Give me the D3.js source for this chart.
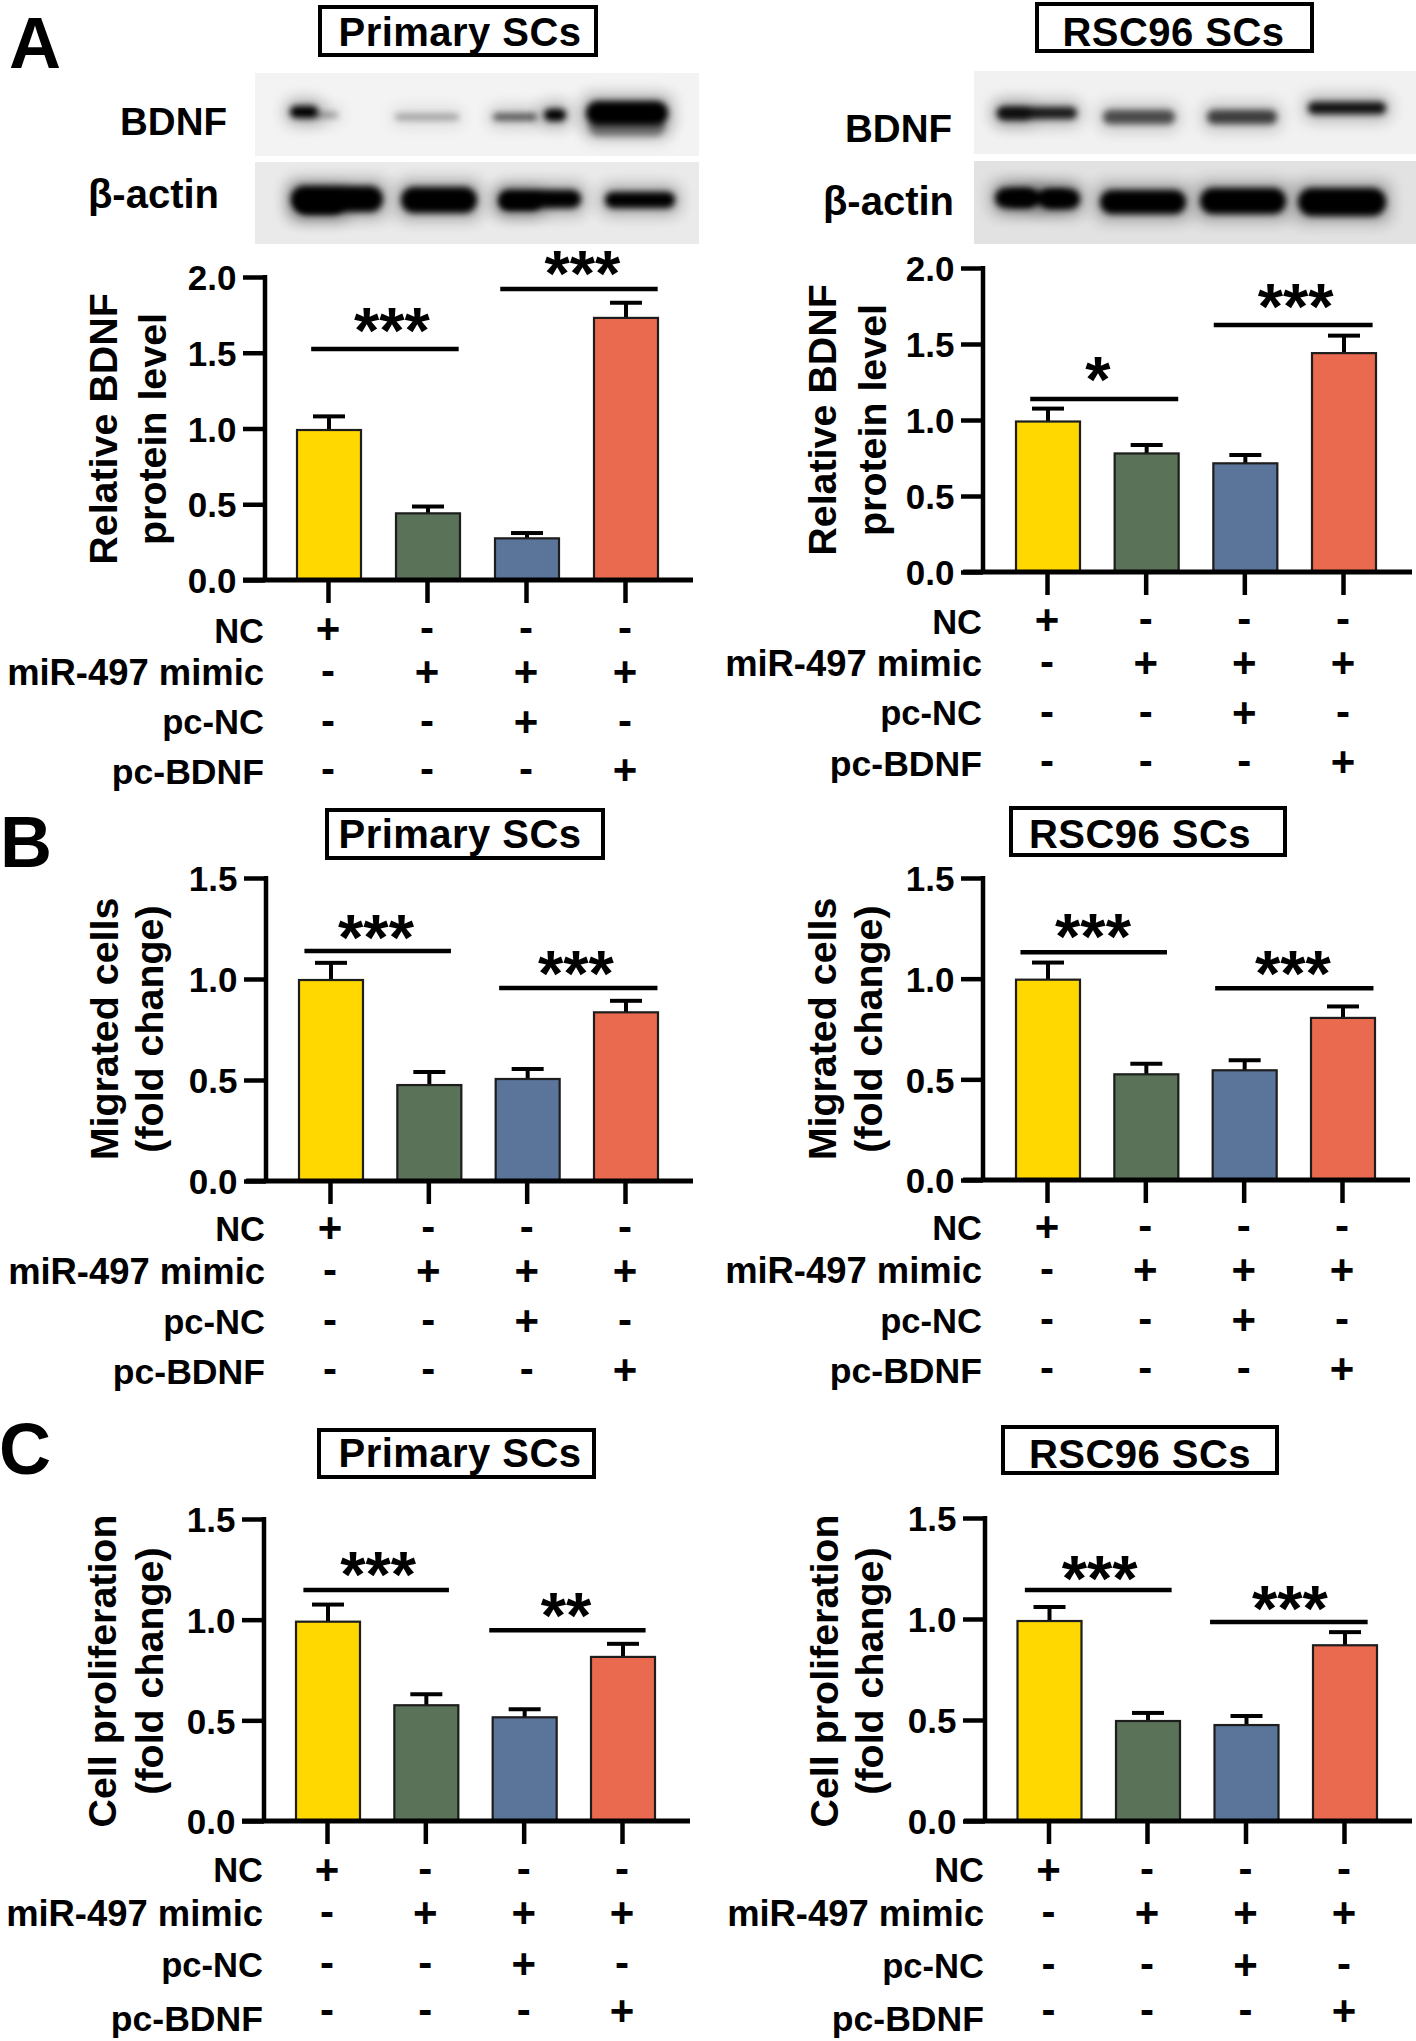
<!DOCTYPE html>
<html><head><meta charset="utf-8">
<script src="https://cdn.jsdelivr.net/npm/d3@7"></script>
<style>
html,body{margin:0;padding:0;background:#fff}
svg{display:block}
text{font-family:"Liberation Sans",Arial,sans-serif;font-weight:700;fill:#000}
</style></head><body>
<div id="chart"></div>
<script>
const groups=[0,1,2,3];
const barColors=["#FFD800","#5A7257","#5A7599","#EA6A50"];
const rowNames=["NC","miR-497 mimic","pc-NC","pc-BDNF"];
const rowFontSizes=[34.5,36.4,34.6,35.6];
const rowSigns=[["+","-","-","-"],["-","+","+","+"],["-","-","+","-"],["-","-","-","+"]];

const meansAL=[0.99,0.44,0.275,1.73], errTopAL=[1.08,0.485,0.31,1.83];
const meansAR=[0.99,0.78,0.715,1.44], errTopAR=[1.075,0.835,0.77,1.555];
const meansBL=[0.995,0.475,0.505,0.835], errTopBL=[1.08,0.54,0.555,0.892];
const meansBR=[0.995,0.525,0.545,0.805], errTopBR=[1.08,0.578,0.595,0.862];
const meansCL=[0.99,0.575,0.515,0.815], errTopCL=[1.075,0.63,0.555,0.88];
const meansCR=[0.99,0.495,0.475,0.87], errTopCR=[1.06,0.535,0.52,0.935];

// [from group, to group, level, stars, star group position, star level]
const sigAL=[[-0.17,1.32,1.524,"***",0.646,1.70],[1.74,3.33,1.92,"***",2.57,2.08]];
const sigAR=[[-0.17,1.33,1.138,"*",0.517,1.32],[1.69,3.30,1.625,"***",2.52,1.80]];
const sigBL=[[-0.26,1.23,1.138,"***",0.468,1.25],[1.72,3.33,0.955,"***",2.50,1.068]];
const sigBR=[[-0.27,1.22,1.131,"***",0.468,1.25],[1.71,3.32,0.952,"***",2.50,1.066]];
const sigCL=[[-0.24,1.24,1.147,"***",0.52,1.266],[1.65,3.24,0.948,"**",2.43,1.063]];
const sigCR=[[-0.24,1.25,1.144,"***",0.52,1.243],[1.64,3.24,0.985,"***",2.45,1.095]];

const ticksA=[0,0.5,1,1.5,2], ticksBC=[0,0.5,1,1.5];
const fmt=d3.format(".1f");

const W=1416,H=2041;
const svg=d3.select("#chart").append("svg").attr("width",W).attr("height",H).attr("viewBox",`0 0 ${W} ${H}`);
const defs=svg.append("defs");
[["b2",3],["b8",8]].forEach(([id,s])=>{
  defs.append("filter").attr("id",id).attr("x","-40%").attr("y","-100%").attr("width","180%").attr("height","300%")
    .append("feGaussianBlur").attr("stdDeviation",s);
});

const labA=[0,-1,-2,0], labB=[-1,-1,-1,0], labC=[-2,-1,-1,6];
const panels=[
 {m:meansAL,e:errTopAL,s:sigAL,ticks:ticksA,top:2,ax:265,y0:580,yT:277,l:243,r:693,t0:328,t3:625,rows:[630,673,723,771],labDy:labA,lab:["Relative BDNF","protein level"],lx:[117,166],lc:429,
  box:[318,5,598,57],title:"Primary SCs",tx:460,tb:46},
 {m:meansAR,e:errTopAR,s:sigAR,ticks:ticksA,top:2,ax:983,y0:572,yT:268,l:963,r:1412,t0:1047,t3:1343,rows:[621,664,714,763],labDy:labA,lab:["Relative BDNF","protein level"],lx:[836,886],lc:420,
  box:[1035,2,1314,53],title:"RSC96 SCs",tx:1173.5,tb:46},
 {m:meansBL,e:errTopBL,s:sigBL,ticks:ticksBC,top:1.5,ax:266,y0:1181,yT:878,l:246,r:693,t0:330,t3:625,rows:[1229,1272,1322,1371],labDy:labB,lab:["Migrated cells","(fold change)"],lx:[118,163],lc:1029,
  box:[325,808,605,860],title:"Primary SCs",tx:460,tb:848},
 {m:meansBR,e:errTopBR,s:sigBR,ticks:ticksBC,top:1.5,ax:983,y0:1180,yT:878,l:963,r:1410,t0:1047,t3:1342,rows:[1228,1271,1321,1370],labDy:labB,lab:["Migrated cells","(fold change)"],lx:[836,882],lc:1029,
  box:[1009,806,1287,857],title:"RSC96 SCs",tx:1140,tb:848},
 {m:meansCL,e:errTopCL,s:sigCL,ticks:ticksBC,top:1.5,ax:264,y0:1821,yT:1519,l:242,r:690,t0:327,t3:622,rows:[1871,1914,1965,2012],labDy:labC,lab:["Cell proliferation","(fold change)"],lx:[116,163],lc:1671,
  box:[317,1428,596,1479],title:"Primary SCs",tx:460,tb:1467},
 {m:meansCR,e:errTopCR,s:sigCR,ticks:ticksBC,top:1.5,ax:985,y0:1821,yT:1518,l:964,r:1412,t0:1048.5,t3:1344,rows:[1871,1914,1966,2012],labDy:labC,lab:["Cell proliferation","(fold change)"],lx:[838,883],lc:1671,
  box:[1001,1425,1279,1475],title:"RSC96 SCs",tx:1140,tb:1468}
];

// western blot strips: [cx, cy, half-width, half-height, darkness]
const blotBackgrounds=[[255,73,444,83,"#f3f3f3"],[255,162,444,82,"#eaeaea"],[974,71,442,83,"#f1f1f1"],[974,161,442,83,"#e2e2e2"]];
const blotBands=[
 [304,112,14,6,1],[326,115,12,2.5,.35],[427,117,32,3,.3],[515,117,22,3.5,.6],[555,115,11,6,1],[627,113,41,12,1],[627,127,38,9,.4],
 [337,199,46,13,1],[320,204,24,10,1],[439,200,38,13,1],[540,199,41,9,1],[520,203,20,7,1],[640,200,35,8,1],
 [1037,113,40,6,.85],[1015,114,16,6,.5],[1139,117,36,7,.62],[1242,117,35,7,.68],[1347,108,39,6,.9],
 [1016,198,21,10,1],[1060,199,20,10,1],[1038,198,30,6,1],[1143,202,43,12,1],[1243,201,43,13,1],[1342,202,44,14,1]
];
const blotG=svg.append("g");
blotG.selectAll("rect.bg").data(blotBackgrounds).join("rect").attr("class","bg")
  .attr("x",d=>d[0]).attr("y",d=>d[1]).attr("width",d=>d[2]).attr("height",d=>d[3]).attr("fill",d=>d[4]);
blotG.selectAll("rect.halo").data(blotBands).join("rect").attr("class","halo")
  .attr("x",d=>d[0]-d[2]-4).attr("y",d=>d[1]-d[3]-6).attr("width",d=>2*d[2]+8).attr("height",d=>2*d[3]+12)
  .attr("rx",8).attr("fill","#000").attr("opacity",d=>d[4]*.32).attr("filter","url(#b8)");
blotG.selectAll("rect.band").data(blotBands).join("rect").attr("class","band")
  .attr("x",d=>d[0]-d[2]).attr("y",d=>d[1]-d[3]).attr("width",d=>2*d[2]).attr("height",d=>2*d[3])
  .attr("rx",d=>Math.min(d[3],d[2])).attr("fill","#000").attr("opacity",d=>d[4]).attr("filter","url(#b2)");

// [label, right edge, baseline, size]
const blotLabels=[["BDNF",227,135,38.5],["β-actin",219,208,40],["BDNF",952,142,38.5],["β-actin",954,215,40]];
svg.selectAll("text.bl").data(blotLabels).join("text").attr("class","bl")
  .attr("x",d=>d[1]).attr("y",d=>d[2]).attr("text-anchor","end").attr("font-size",d=>d[3]).text(d=>d[0]);

const panelLetters=[["A",9,68],["B",0,867],["C",-1,1474]];
svg.selectAll("text.pl").data(panelLetters).join("text").attr("class","pl")
  .attr("x",d=>d[1]).attr("y",d=>d[2]).attr("font-size",72).text(d=>d[0]);

panels.forEach(p=>{
  const g=svg.append("g");
  const x=d3.scaleLinear().domain([0,3]).range([p.t0,p.t3]);
  const y=d3.scaleLinear().domain([0,p.top]).range([p.y0,p.yT]);
  const hw=32;
  // title box
  g.append("rect").attr("x",p.box[0]+2).attr("y",p.box[1]+2).attr("width",p.box[2]-p.box[0]-4).attr("height",p.box[3]-p.box[1]-4)
    .attr("fill","#fff").attr("stroke","#000").attr("stroke-width",4);
  g.append("text").attr("x",p.tx).attr("y",p.tb).attr("text-anchor","middle").attr("font-size",40).attr("letter-spacing",0.45).text(p.title);
  // error bars
  const eb=g.append("g").attr("stroke","#000").attr("stroke-width",4);
  eb.selectAll("line.st").data(groups).join("line").attr("class","st")
    .attr("x1",i=>x(i)+1).attr("x2",i=>x(i)+1).attr("y1",i=>y(p.m[i])).attr("y2",i=>y(p.e[i]));
  eb.selectAll("line.cap").data(groups).join("line").attr("class","cap")
    .attr("x1",i=>x(i)+1-16).attr("x2",i=>x(i)+1+16).attr("y1",i=>y(p.e[i])).attr("y2",i=>y(p.e[i]));
  // bars
  g.selectAll("rect.bar").data(groups).join("rect").attr("class","bar")
    .attr("x",i=>x(i)-hw+1).attr("width",2*hw).attr("y",i=>y(p.m[i])).attr("height",i=>y(0)-y(p.m[i]))
    .attr("fill",i=>barColors[i]).attr("stroke","#1d1d1d").attr("stroke-width",2.2);
  // axes
  const ya=g.append("g").attr("transform",`translate(${p.ax},0)`)
    .call(d3.axisLeft(y).tickValues(p.ticks).tickFormat(fmt).tickSize(22).tickPadding(6.5));
  const xa=g.append("g").attr("transform",`translate(0,${p.y0})`)
    .call(d3.axisBottom(x).tickValues(groups).tickFormat("").tickSize(23));
  xa.select(".domain").remove();
  ya.selectAll("path,line").attr("stroke","#000").attr("stroke-width",4.5);
  xa.selectAll("line").attr("stroke","#000").attr("stroke-width",4.5);
  ya.select(".domain").attr("d",`M0,${p.yT-2}V${p.y0}`);
  ya.attr("font-family",null);
  ya.selectAll("text").attr("font-size",35).attr("transform","translate(0,1.5)").style("fill","#000");
  g.append("line").attr("x1",p.l).attr("x2",p.r).attr("y1",p.y0).attr("y2",p.y0).attr("stroke","#000").attr("stroke-width",5);
  // axis title
  p.lab.forEach((t,i)=>{
    g.append("text").attr("transform",`translate(${p.lx[i]},${p.lc}) rotate(-90)`).attr("text-anchor","middle").attr("font-size",39.4).text(t);
  });
  // significance
  g.selectAll("line.sig").data(p.s).join("line").attr("class","sig")
    .attr("x1",d=>x(d[0])).attr("x2",d=>x(d[1])).attr("y1",d=>y(d[2])).attr("y2",d=>y(d[2])).attr("stroke","#000").attr("stroke-width",4.5);
  g.selectAll("text.st").data(p.s).join("text").attr("class","st").attr("text-anchor","middle").attr("font-size",65)
    .attr("x",d=>x(d[4])).attr("y",d=>y(d[5])+31).text(d=>d[3]);
  // design rows
  rowNames.forEach((n,r)=>{
    g.append("text").attr("x",p.ax-1).attr("y",p.rows[r]+13+p.labDy[r]).attr("text-anchor","end").attr("font-size",rowFontSizes[r]).text(n);
    g.selectAll(null).data(groups).join("text").attr("text-anchor","middle").attr("font-size",42)
      .attr("x",i=>x(i)).attr("y",i=>p.rows[r]+(rowSigns[r][i]==="+"?13:12)).text(i=>rowSigns[r][i]);
  });
});
</script>
</body></html>
